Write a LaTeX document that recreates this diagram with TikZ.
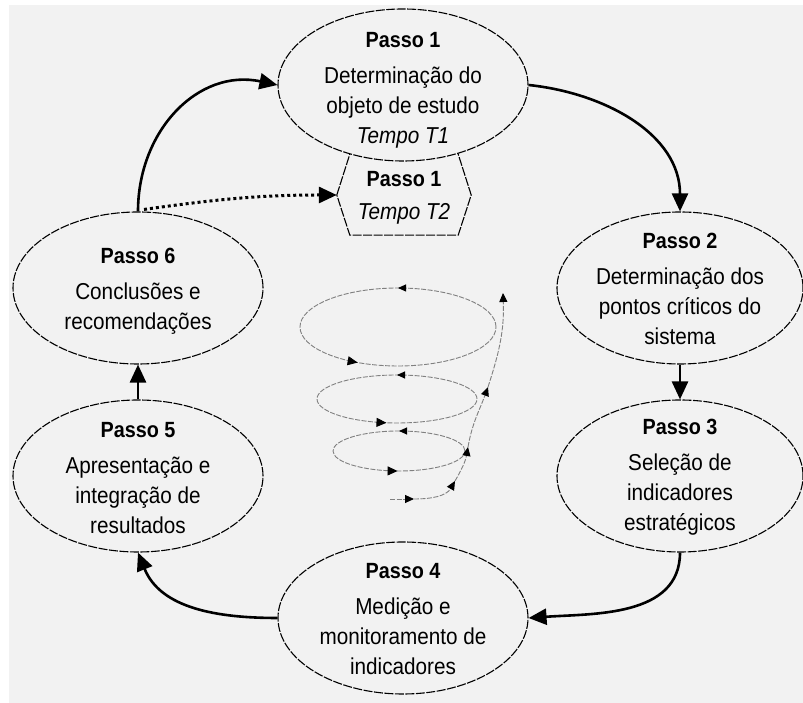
\documentclass[tikz,border=0pt]{standalone}
\usepackage{fontspec}
\setmainfont{Liberation Sans}[FakeStretch=0.9]
\usetikzlibrary{arrows.meta,decorations.markings,shapes.geometric}
\definecolor{bg}{HTML}{F2F2F2}
\begin{document}
\begin{tikzpicture}[x=1pt,y=1pt,
  stepell/.style={ellipse, draw, line width=1.1pt, dash pattern=on 9pt off 1.5pt,
    fill=bg, minimum width=250pt, minimum height=152pt, inner sep=0pt},
  steptxt/.style={align=center, font=\fontsize{23}{30}\selectfont, inner sep=0pt},
  ttl/.style={font=\fontsize{22}{30}\selectfont\bfseries},
  conn/.style={line width=2.6pt, -{Triangle[length=18pt,width=16pt]}},
  dotconn/.style={line width=3pt, dash pattern=on 3pt off 3pt, -{Triangle[length=18pt,width=16pt]}},
  spiral/.style={black!50, line width=0.9pt, dash pattern=on 5pt off 1.5pt},
  sarr/.style={-{Triangle[length=9pt,width=8pt,color=black]}},
  markat/.style={postaction={decorate}, decoration={markings,
    mark=at position 0.25 with {\arrow{Triangle[length=8pt,width=7pt,color=black]}},
    mark=at position #1 with {\arrow{Triangle[length=10pt,width=9pt,color=black]}}}}
]
\useasboundingbox (0,0) rectangle (803,703);
\fill[bg] (9,0) rectangle (803,698);

% hexagon (Passo 1, Tempo T2)
\node[minimum width=134pt, minimum height=80pt, inner sep=0pt] (hex) at (404,508) {};
\draw[line width=1.1pt, dash pattern=on 9pt off 1.5pt, fill=bg]
  (hex.west) -- ([xshift=16pt,yshift=10pt]hex.north west)
  -- ([xshift=-16pt,yshift=10pt]hex.north east) -- (hex.east)
  -- ([xshift=-13pt]hex.south east) -- ([xshift=13pt]hex.south west) -- cycle;

% ellipses
\node[stepell] (p1) at (403,618) {};
\node[stepell, minimum width=246pt] (p2) at (680,415) {};
\node[stepell, minimum width=246pt] (p3) at (680,227) {};
\node[stepell] (p4) at (403,85) {};
\node[stepell] (p5) at (138,227) {};
\node[stepell] (p6) at (138,415) {};

% texts
\node[steptxt] (t1) at (403,613) {{\fontsize{22}{30}\selectfont\bfseries Passo 1}\\[6pt]Determinação do\\objeto de estudo\\\textit{Tempo T1}};
\node[steptxt] (th) at (404,505) {{\fontsize{22}{30}\selectfont\bfseries Passo 1}\\[3pt]\textit{Tempo T2}};
\node[steptxt] (t2) at (680,414) {{\fontsize{22}{30}\selectfont\bfseries Passo 2}\\[6pt]Determinação dos\\pontos críticos do\\sistema};
\node[steptxt] (t3) at (680,226) {{\fontsize{22}{30}\selectfont\bfseries Passo 3}\\[6pt]Seleção de\\indicadores\\estratégicos};
\node[steptxt] (t4) at (403,84) {{\fontsize{22}{30}\selectfont\bfseries Passo 4}\\[6pt]Medição e\\monitoramento de\\indicadores};
\node[steptxt] (t5) at (138,225) {{\fontsize{22}{30}\selectfont\bfseries Passo 5}\\[6pt]Apresentação e\\integração de\\resultados};
\node[steptxt] (t6) at (138,412) {{\fontsize{22}{30}\selectfont\bfseries Passo 6}\\[6pt]Conclusões e\\recomendações};

% connectors
\draw[conn] (p6.north) to[out=90, in=168, looseness=1.1] (p1.west);
\draw[conn] (p1.east) to[out=-6, in=90] (p2.north);
\draw[conn] (p2.south) -- (p3.north);
\draw[conn] (p3.south) to[out=-90, in=4] (p4.east);
\draw[conn] (p4.west) to[out=180, in=-68] (p5.south);
\draw[conn] (p5.north) -- (p6.south);
\draw[dotconn] ([xshift=6pt,yshift=2pt]p6.north) to[out=8, in=180] (hex.west);

% spiral
\draw[spiral, markat=0.66] (496,376) arc[start angle=0, end angle=360, x radius=98pt, y radius=39pt];
\draw[spiral, markat=0.72] (477,304) arc[start angle=0, end angle=360, x radius=80pt, y radius=24pt];
\draw[spiral, markat=0.745] (465,252) arc[start angle=0, end angle=360, x radius=66pt, y radius=20pt];
\draw[spiral, sarr] (390,204) -- (414,204);
\draw[spiral, sarr] (414,204) to[out=0, in=-120] (455,222);
\draw[spiral, sarr] (455,222) to[out=60, in=-100] (468,256);
\draw[spiral, sarr] (468,256) to[out=80, in=-110] (488,316);
\draw[spiral, sarr] (488,316) to[out=72, in=-88] (503,410);
\end{tikzpicture}
\end{document}
